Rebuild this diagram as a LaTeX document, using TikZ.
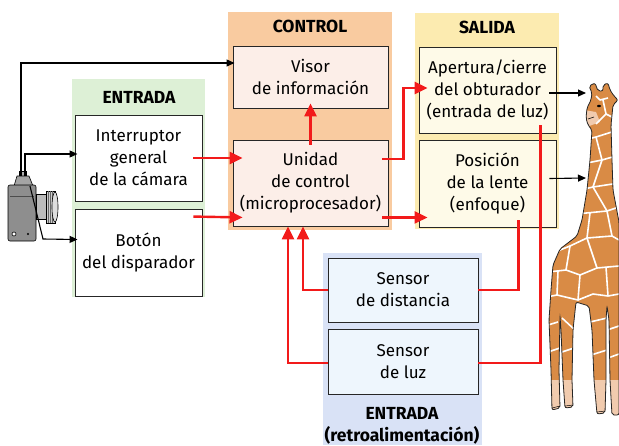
\documentclass[tikz,border=0pt]{standalone}
\usepackage{fontspec}
\setmainfont{Fira Sans}
\usetikzlibrary{arrows.meta,calc}
\definecolor{ctrlbg}{HTML}{F9CBA0}
\definecolor{ctrlbox}{HTML}{FCEEE8}
\definecolor{salbg}{HTML}{FCEBB0}
\definecolor{salbox}{HTML}{FEFAE8}
\definecolor{entbg}{HTML}{DDF0D6}
\definecolor{fbbg}{HTML}{D9E2F6}
\definecolor{fbbox}{HTML}{EEF6FD}
\definecolor{sigred}{HTML}{F21A1A}
\definecolor{giraffe}{HTML}{D98B45}
\definecolor{girlight}{HTML}{F1CBAE}
\definecolor{camgray}{HTML}{8E8E8E}
\begin{document}
\begin{tikzpicture}[x=1pt,y=-1pt,
  block/.style={draw=black!85,line width=0.9pt,fill=#1,align=center,inner sep=0pt,
    font=\fontsize{17}{22}\selectfont},
  heading/.style={font=\fontsize{17.5}{21}\selectfont\bfseries,inner sep=0pt},
  sig/.style={draw=sigred,line width=2.4pt,-{Triangle[length=13pt,width=12pt]}},
  sigline/.style={draw=sigred,line width=2.4pt},
  act/.style={draw=black,line width=1.1pt,-{Triangle[length=8pt,width=7pt]}}]
\useasboundingbox (0,0) rectangle (619,445);
\fill[white] (0,0) rectangle (619,445);

% background panels
\fill[ctrlbg] (228,12) rectangle (392,230);
\fill[salbg] (415,13) rectangle (559,229);
\fill[entbg] (72,79) rectangle (205,297);
\fill[fbbg] (323,253) rectangle (482,445);

% panel headings
\node[heading] (hctrl) at (310,26) {CONTROL};
\node[heading] (hsal) at (487,27) {SALIDA};
\node[heading] (hent) at (139,97) {ENTRADA};
\node[heading,align=center,font=\fontsize{17.5}{21.5}\selectfont\bfseries] (hfb) at (402,426) {ENTRADA\\(retroalimentación)};

% blocks
\node[block=ctrlbox,minimum width=155pt,minimum height=62pt] (visor) at (310.5,77) {Visor\\de información};
\node[block=ctrlbox,minimum width=155pt,minimum height=86pt] (unit) at (310.5,183) {Unidad\\de control\\(microprocesador)};
\node[block=white,minimum width=127pt,minimum height=86pt] (intr) at (138.5,158) {Interruptor\\general\\de la cámara};
\node[block=white,minimum width=127pt,minimum height=87pt] (btn) at (138.5,252.5) {Botón\\del disparador};
\node[block=salbox,minimum width=137pt,minimum height=86pt] (apert) at (487.5,90) {Apertura/cierre\\del obturador\\(entrada de luz)};
\node[block=salbox,minimum width=137pt,minimum height=87pt] (pos) at (487.5,183.5) {Posición\\de la lente\\(enfoque)};
\node[block=fbbox,minimum width=150pt,minimum height=64pt] (sdist) at (403,290) {Sensor\\de distancia};
\node[block=fbbox,minimum width=150pt,minimum height=65pt] (sluz) at (403,361.5) {Sensor\\de luz};

% camera
\begin{scope}[line width=0.6pt]
  \fill[camgray!70,draw=black] (19,171) rectangle (26,178);
  \fill[camgray!80,draw=black] (14,186) -- (17,176) -- (29,176) -- (33,186) -- cycle;
  \fill[camgray,draw=black,rounded corners=2pt] (8,185) rectangle (36,241);
  \fill[camgray!60,draw=black] (36,194) rectangle (46,219);
  \fill[camgray!45,draw=black] (46,191) rectangle (55,223);
  \foreach \xx in {48,50,52} \draw[black!60] (\xx,191) -- (\xx,223);
  \fill[camgray!30,draw=black] (55,207) ellipse (3pt and 15pt);
  \draw[black!70] (10,196) -- (34,196);
  \fill[white,draw=black] (14,234) circle (2pt);
  \fill[black] (28,234) circle (1.2pt);
\end{scope}
\coordinate (camA) at (21,176);
\coordinate (camB) at (25,176);
\coordinate (camC) at (30,186);
\coordinate (camD) at (43,239);

% giraffe
\def\giraffepath{(588,125) -- (586,118) -- (587,108) -- (591,100) -- (592,93) -- (589,86) -- (595,83) -- (598,91)
  -- (603,91) -- (603,85) -- (608,83) -- (610,90) -- (614,96) -- (618,100) -- (613,105)
  -- (611,125) -- (612,160) -- (613,190) -- (619,222) -- (619,415) -- (612,415) -- (610,380)
  -- (609,320) -- (607,306) -- (606,320) -- (606,380) -- (605,413) -- (597,414) -- (594,380)
  -- (592,330) -- (589,306) -- (576,302) -- (573,330) -- (572,380) -- (573,407) -- (565,408)
  -- (563,380) -- (561,330) -- (560,316) -- (559,370) -- (560,408) -- (552,410) -- (551,370)
  -- (549,320) -- (551,290) -- (553,265) -- (560,249) -- (577,236) -- (582,220) -- (587,190)
  -- (590,160) -- (592,130) -- cycle}
\fill[giraffe,rounded corners=2pt] \giraffepath;
\begin{scope}
  \clip[rounded corners=2pt] \giraffepath;
  \fill[girlight] (584,110) -- (596,112) -- (600,122) -- (584,128) -- cycle;
  \fill[girlight] (540,380) rectangle (619,420);
  \begin{scope}[white,line width=1.6pt,line join=round]
    \draw (596,96) -- (600,100) -- (608,98);
    \draw (603,100) -- (606,114) -- (596,124);
    \draw (606,114) -- (614,118);
    \draw (584,140) -- (596,137) -- (615,131);
    \draw (596,137) -- (602,160);
    \draw (582,164) -- (602,160) -- (616,156);
    \draw (602,160) -- (593,187);
    \draw (580,190) -- (593,187) -- (619,183);
    \draw (593,187) -- (607,211);
    \draw (576,214) -- (607,211) -- (619,207);
    \draw (590,213) -- (587,238);
    \draw (607,211) -- (612,236);
    \draw (555,252) -- (570,246) -- (587,238) -- (612,236) -- (619,240);
    \draw (570,246) -- (566,270);
    \draw (587,238) -- (597,268);
    \draw (548,272) -- (566,270) -- (580,275) -- (597,268) -- (619,266);
    \draw (558,271) -- (557,295);
    \draw (580,275) -- (578,300);
    \draw (606,267) -- (608,296);
    \draw (546,297) -- (557,295) -- (578,300) -- (593,294) -- (608,296) -- (619,294);
    \draw (548,325) -- (558,322);
    \draw (562,318) -- (575,330);
    \draw (590,322) -- (607,318);
    \draw (607,330) -- (619,326);
    \draw (548,352) -- (560,348);
    \draw (562,352) -- (574,348);
    \draw (591,355) -- (607,350);
    \draw (608,358) -- (619,354);
  \end{scope}
\end{scope}
\draw[black!85,line width=0.8pt,rounded corners=2pt] \giraffepath;
\fill[black] (599,106) ellipse (2pt and 1.2pt);
\draw[black,line width=0.6pt] (588,119) -- (594,117);
\draw[black,line width=0.5pt] (552,408) -- (560,406);
\draw[black,line width=0.5pt] (565,406) -- (573,405);
\draw[black,line width=0.5pt] (597,412) -- (605,411);
\coordinate (girA) at (586,93);
\coordinate (girB) at (586,178);

% camera cables to the blocks
\draw[act] (camA) |- ([shift={(2,-14)}]visor.west);
\draw[act] (camB) |- ([shift={(3,-4)}]intr.west);
\draw[act] (camC) -- (camD) -- ([shift={(3,-13)}]btn.west);

% signal flow
\draw[sig] ([xshift=-9pt]intr.east) -- ([xshift=10pt]unit.west |- intr.east);
\draw[sig] ([shift={(-9,8)}]btn.north east) -- ([shift={(10,-9)}]unit.south west);
\draw[sig] ([yshift=-5pt]unit.north) -- ([yshift=5pt]visor.south);
\draw[sig] ([shift={(-6,-24)}]unit.east) -- ++(21,0) |- ([shift={(9,-2)}]apert.west);
\draw[sig] ([shift={(-6,-9)}]unit.south east) -- ([shift={(9,-10)}]pos.south west);
\draw[sig] (sdist.west) -| ([xshift=-7.5pt]unit.south);
\draw[sig] ([yshift=-1.5pt]sluz.west) -| ([xshift=-22.5pt]unit.south);
\draw[sigline] ([shift={(-38,-7)}]pos.south east) |- (sdist.east);
\draw[sigline] ([shift={(-16,-8)}]apert.south east) |- ([yshift=-1.5pt]sluz.east);

% actuator outputs
\draw[act] ([shift={(-7,3)}]apert.east) -- (girA);
\draw[act] ([shift={(-7,-5)}]pos.east) -- (girB);
\end{tikzpicture}
\end{document}
